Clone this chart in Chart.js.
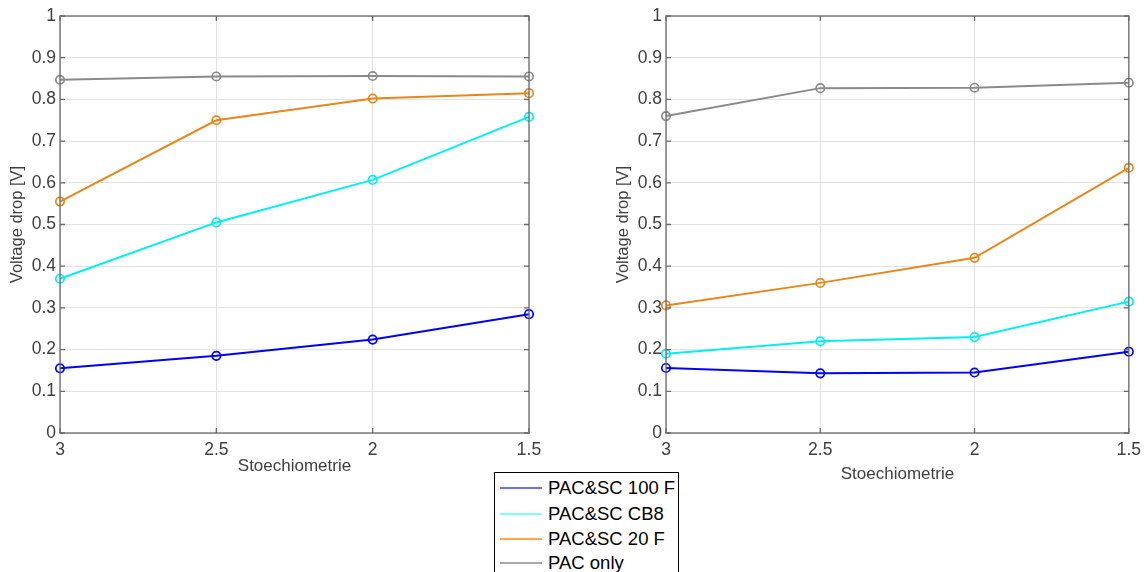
<!DOCTYPE html>
<html>
<head>
<meta charset="utf-8">
<script src="https://cdn.jsdelivr.net/npm/chart.js@4/dist/chart.umd.min.js"></script>
<style>
  html, body { margin: 0; padding: 0; background: #ffffff; }
  body { width: 1148px; height: 572px; position: relative; overflow: hidden; font-family: "Liberation Sans", Arial, sans-serif; }
  .wrap { position: absolute; top: 0; }
  #legend { position: absolute; left: 494px; top: 472px; width: 185px; height: 110px; border: 1.5px solid #000; background: #fff; box-sizing: border-box; }
  .row { position: absolute; left: 0; height: 24px; display: flex; align-items: center; font-size: 18.5px; color: #000; white-space: nowrap; }
  .sw { width: 42px; height: 2px; margin-left: 5px; margin-right: 6px; }
</style>
</head>
<body>
<div class="wrap" style="left:0px;width:560px;height:500px;"><canvas id="c1" width="560" height="500"></canvas></div>
<div class="wrap" style="left:600px;width:548px;height:500px;"><canvas id="c2" width="548" height="500"></canvas></div>
<div id="legend"></div>
<script>
// ---- data ----
const stoich = [3, 2.5, 2, 1.5];
const seriesNames = ["PAC&SC 100 F", "PAC&SC CB8", "PAC&SC 20 F", "PAC only"];
const seriesColors = ["#0000ff", "#00f0f0", "#e8861a", "#8a8a8a"];
const legendColors = ["#7070ff", "#80ffff", "#ffa64d", "#a8a8a8"];
const yTicks = [0, 0.1, 0.2, 0.3, 0.4, 0.5, 0.6, 0.7, 0.8, 0.9, 1];
const xTicks = [3, 2.5, 2, 1.5];

// left panel
const left100F = [0.155, 0.185, 0.224, 0.285];
const leftCB8  = [0.370, 0.505, 0.607, 0.758];
const left20F  = [0.555, 0.750, 0.802, 0.815];
const leftPAC  = [0.847, 0.855, 0.856, 0.855];
// right panel
const right100F = [0.156, 0.143, 0.145, 0.195];
const rightCB8  = [0.190, 0.220, 0.230, 0.315];
const right20F  = [0.306, 0.360, 0.420, 0.636];
const rightPAC  = [0.760, 0.827, 0.828, 0.840];

const axisColor = "#6a6a6a";
const textColor = "#404040";

const boxPlugin = {
  id: "boxTicks",
  afterDatasetsDraw(chart) {
    const { ctx, chartArea: a, scales } = chart;
    ctx.save();
    ctx.strokeStyle = axisColor;
    ctx.lineWidth = 1.3;
    ctx.strokeRect(a.left, a.top, a.right - a.left, a.bottom - a.top);
    const L = 5;
    ctx.beginPath();
    yTicks.forEach(v => {
      const y = scales.y.getPixelForValue(v);
      ctx.moveTo(a.left, y); ctx.lineTo(a.left + L, y);
      ctx.moveTo(a.right, y); ctx.lineTo(a.right - L, y);
    });
    xTicks.forEach(v => {
      const x = scales.x.getPixelForValue(v);
      ctx.moveTo(x, a.bottom); ctx.lineTo(x, a.bottom - L);
      ctx.moveTo(x, a.top); ctx.lineTo(x, a.top + L);
    });
    ctx.stroke();
    ctx.restore();
  }
};

function makeChart(id, arrays, padLeft, yWidth, padRight, titleBottom) {
  const datasets = arrays.map((arr, i) => ({
    label: seriesNames[i],
    data: stoich.map((s, j) => ({ x: s, y: arr[j] })),
    borderColor: seriesColors[i],
    backgroundColor: "rgba(0,0,0,0)",
    pointBackgroundColor: "rgba(255,255,255,0)",
    pointBorderColor: seriesColors[i],
    pointBorderWidth: 1.7,
    pointRadius: 4.2,
    borderWidth: 2,
    tension: 0,
    clip: false
  }));
  return new Chart(document.getElementById(id), {
    type: "line",
    data: { datasets },
    plugins: [boxPlugin],
    options: {
      responsive: false,
      animation: false,
      devicePixelRatio: 1,
      layout: { padding: { left: padLeft, right: padRight, top: 16, bottom: 20 } },
      plugins: { legend: { display: false }, tooltip: { enabled: false } },
      scales: {
        x: {
          type: "linear",
          reverse: true,
          min: 1.5, max: 3,
          afterBuildTicks: s => { s.ticks = xTicks.map(v => ({ value: v })); },
          afterFit: s => { s.height = 47; },
          grid: { color: "#e2e2e2", drawTicks: false, lineWidth: 1 },
          border: { display: false },
          ticks: {
            color: textColor, font: { family: "Liberation Sans, Arial", size: 17.5 }, padding: 7,
            maxRotation: 0, autoSkip: false,
            callback: v => String(v)
          },
          title: {
            display: true, text: "Stoechiometrie", color: textColor,
            font: { family: "Liberation Sans, Arial", size: 17 }, padding: { top: 0, bottom: titleBottom }
          }
        },
        y: {
          min: 0, max: 1,
          afterBuildTicks: s => { s.ticks = yTicks.map(v => ({ value: v })); },
          afterFit: s => { s.width = yWidth; },
          grid: { color: "#e2e2e2", drawTicks: false, lineWidth: 1 },
          border: { display: false },
          ticks: {
            color: textColor, font: { family: "Liberation Sans, Arial", size: 17.5 }, padding: 4,
            autoSkip: false,
            callback: v => String(Number(v.toFixed(1)))
          },
          title: {
            display: true, text: "Voltage drop [V]", color: textColor,
            font: { family: "Liberation Sans, Arial", size: 16.5 }, padding: { top: 0, bottom: 2 }
          }
        }
      }
    }
  });
}

makeChart("c1", [left100F, leftCB8, left20F, leftPAC], 8, 52, 31, 3);
makeChart("c2", [right100F, rightCB8, right20F, rightPAC], 14, 52, 14, -5);

// legend
const legend = document.getElementById("legend");
const rowTops = [3, 29, 54, 78];
seriesNames.forEach((n, i) => {
  const r = document.createElement("div");
  r.className = "row";
  r.style.top = rowTops[i] + "px";
  const sw = document.createElement("div");
  sw.className = "sw";
  sw.style.background = legendColors[i];
  const t = document.createElement("span");
  t.textContent = n;
  r.appendChild(sw); r.appendChild(t);
  legend.appendChild(r);
});
</script>
</body>
</html>
